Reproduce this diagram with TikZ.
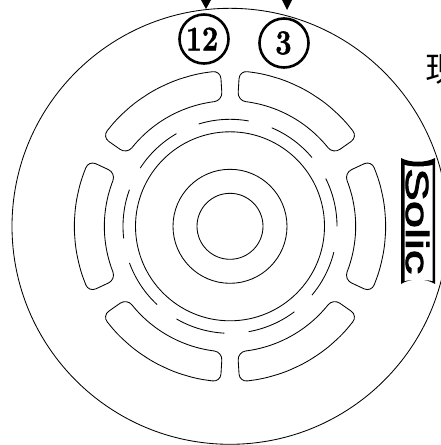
\documentclass[tikz,border=0pt]{standalone}
\usepackage{fontspec}
\usepackage{graphicx}
\newfontfamily\cjk{Noto Sans CJK SC}
\setsansfont{Liberation Sans}
\newcommand{\heavy}[2]{\special{pdf:code q 2 Tr #1 w}#2\special{pdf:code Q}}
\tikzset{
  ln/.style={draw=black,line width=0.85pt},
  slot/.style={ln,rounded corners=8pt},
  badge/.style={circle,draw=black,line width=2.6pt,minimum size=49pt,inner sep=0pt,font=\fontsize{30}{30}\selectfont\bfseries},
}
\newcommand{\slotat}[2]{\draw[slot] (#1:126pt)
  \foreach \i in {1,...,6}{ -- ({#1+(#2-#1)*\i/6}:126pt)}
  \foreach \i in {0,...,6}{ -- ({#2+(#1-#2)*\i/6}:156pt)} -- cycle;}
\newcommand{\ringarc}[2]{\draw[ln] (#1:107pt) arc[start angle=#1,end angle=#2,radius=107pt];}
\begin{document}
\begin{tikzpicture}[x=1pt,y=1pt]
\useasboundingbox (0,0) rectangle (441,-445);
\fill[white] (0,0) rectangle (441,-445);
\clip (0,0) rectangle (441,-445);
\begin{scope}[shift={(230,-226.3)}]
  \draw[ln] (0,0) circle[radius=218pt];
  \draw[ln] (0,0) circle[radius=33pt];
  \draw[ln] (0,0) circle[radius=57pt];
  \draw[ln] (0,0) circle[radius=94.5pt];
  \ringarc{107}{80}\ringarc{67}{40}\ringarc{26.5}{0}\ringarc{-14}{-40}
  \ringarc{-53}{-80}\ringarc{-93}{-120}\ringarc{-133}{-160}\ringarc{-173.5}{-200}\ringarc{-213}{-240}
  \slotat{93.5}{145}\slotat{35}{86.5}\slotat{-25}{25}\slotat{-86.5}{-35}\slotat{-145}{-93.5}\slotat{155}{205}
\end{scope}
\node[badge] (a) at (204,-39) {\raisebox{-1.5pt}{\scalebox{0.96}[1.15]{\heavy{0.5}{12}}\kern4pt}};
\node[badge] (b) at (284,-43) {\raisebox{-1pt}{\scalebox{0.96}[1.15]{\heavy{0.5}{3}}\kern1pt}};
\fill (201,0) -- (211,0) -- (206,-9) -- cycle;
\fill (282,0) -- (292,0) -- (287,-10) -- cycle;
\node[anchor=west,inner sep=0pt,font=\cjk\fontsize{34}{34}\selectfont] (c) at (425.5,-69.5) {现};
\fill[black] (401,-158) .. controls (410,-163) and (426,-163) .. (435,-158) -- (435,-284) .. controls (426,-278) and (410,-278) .. (401,-284) -- cycle;
\fill[white] (404.5,-165) .. controls (412,-167) and (424,-167) .. (432.5,-165) -- (432.5,-281) .. controls (424,-279.5) and (412,-279.5) .. (404.5,-281) -- cycle;
\node[rotate=-90,inner sep=0pt,anchor=base west,font=\sffamily\fontsize{32}{32}\selectfont] (d) at (406,-168) {\scalebox{1.53}[1]{\heavy{0.8}{Solic}}};
\end{tikzpicture}
\end{document}
